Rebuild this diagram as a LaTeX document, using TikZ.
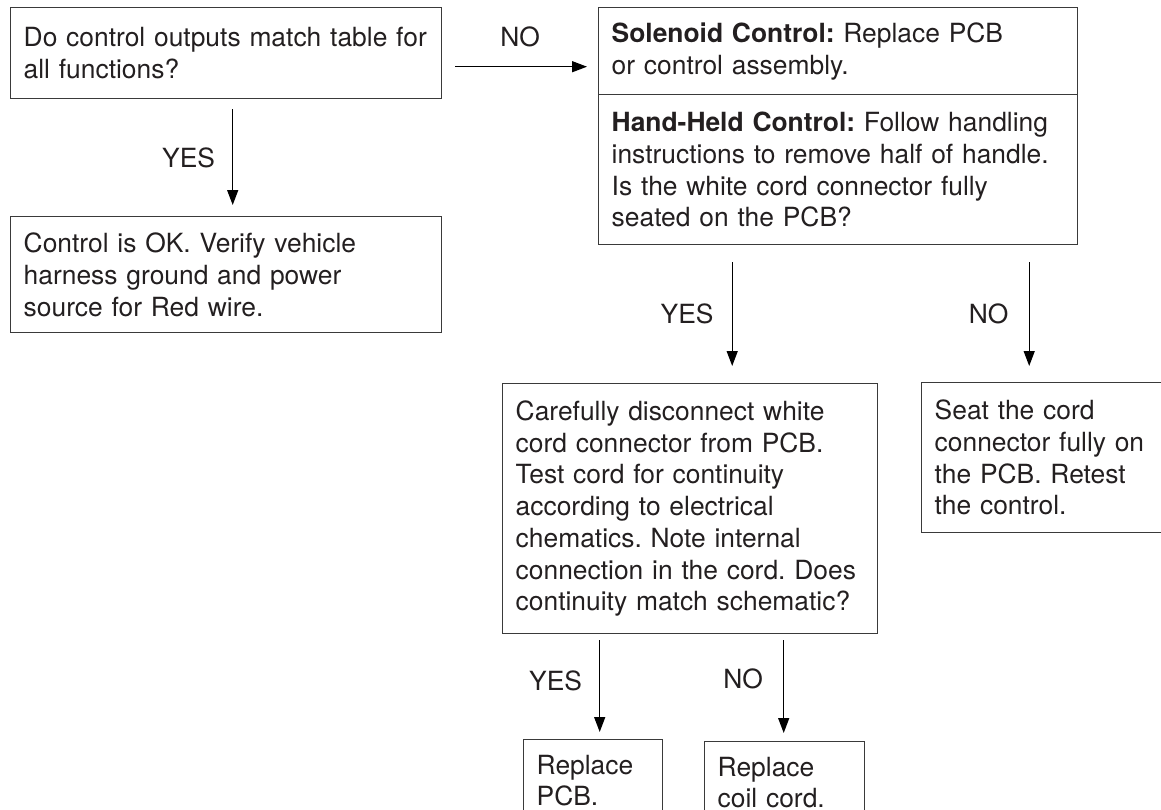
\documentclass[tikz,border=0pt]{standalone}
\usepackage{fontspec}
\setmainfont{TeX Gyre Heros}
\usetikzlibrary{arrows.meta}

\definecolor{tinta}{HTML}{231F20}
\definecolor{borde}{HTML}{3A3A3A}

\tikzset{
    caja/.style={draw=borde, line width=1.4pt, anchor=north west, align=left,
        inner xsep=13pt, inner ysep=0pt, text=tinta,
        font=\fontsize{26.4}{31.7}\selectfont\frenchspacing},
    flecha/.style={line width=1.4pt, -{Triangle[length=15pt,width=11pt]}},
    etiqueta/.style={inner sep=0pt, text=tinta, font=\fontsize{26.4}{31.7}\selectfont},
}

\begin{document}
\begin{tikzpicture}[x=1pt, y=-1pt]

    \useasboundingbox (0,0) rectangle (1161,809);
    \clip (0,0) rectangle (1161,809);

    % Pregunta inicial y resultado correcto
    \node[caja, text width=405pt, minimum height=91pt] (pregunta) at (10,7)
        {Do control outputs match table for\\all functions?};
    \node[caja, text width=405pt, minimum height=116pt] (correcto) at (10,216)
        {Control is OK. Verify vehicle\\harness ground and power\\source for Red wire.};

    % Caja doble de la derecha
    \node[caja, text width=453pt, minimum height=87pt] (solenoide) at (598,7)
        {\textbf{Solenoid Control:} Replace PCB\\or control assembly.};
    \node[caja, text width=453pt, minimum height=150pt] (manual) at (598,94)
        {\textbf{Hand-Held Control:} Follow handling\\instructions to remove half of handle.\\Is the white cord connector fully\\seated on the PCB?};

    % Segundo nivel
    \node[caja, text width=349pt, minimum height=250pt] (desconectar) at (502,383)
        {Carefully disconnect white\\cord connector from PCB.\\Test cord for continuity\\according to electrical\\chematics. Note internal\\connection in the cord. Does\\continuity match schematic?};
    \node[caja, text width=221pt, minimum height=150pt] (asiento) at (921,382)
        {Seat the cord\\connector fully on\\the PCB. Retest\\the control.};

    % Cajas finales (cortadas abajo)
    \node[caja, text width=113pt, minimum height=82pt] (placa) at (523,739)
        {Replace\\PCB.};
    \node[caja, text width=134pt, minimum height=82pt] (cable) at (704,741)
        {Replace\\coil cord.};

    % Flechas
    \draw[flecha, shorten <=10pt, shorten >=11pt] ([xshift=6.5pt]pregunta.south)
        -- ([xshift=6.5pt]pregunta.south |- correcto.north)
        node[etiqueta, midway, left=17pt] {YES};
    \draw[flecha, shorten <=13pt, shorten >=11pt] ([yshift=-13.5pt]pregunta.east)
        -- ([yshift=-13.5pt]pregunta.east -| solenoide.west)
        node[etiqueta, midway, above=19pt] {NO};
    \draw[flecha, shorten <=17pt, shorten >=17pt] ([xshift=-106pt]manual.south)
        -- ([xshift=-106pt]manual.south |- desconectar.north)
        node[etiqueta, midway, left=18pt] {YES};
    \draw[flecha, shorten <=17pt, shorten >=16pt] ([xshift=191pt]manual.south)
        -- ([xshift=191pt]manual.south |- asiento.north)
        node[etiqueta, midway, left=20pt] {NO};
    \draw[flecha, shorten <=6pt, shorten >=7pt] ([xshift=-90.5pt]desconectar.south)
        -- ([xshift=-90.5pt]desconectar.south |- placa.north)
        node[etiqueta, midway, left=17pt, yshift=6pt] {YES};
    \draw[flecha, shorten <=6pt, shorten >=8pt] ([xshift=93.5pt]desconectar.south)
        -- ([xshift=93.5pt]desconectar.south |- cable.north)
        node[etiqueta, midway, left=20pt, yshift=9pt] {NO};

\end{tikzpicture}
\end{document}
